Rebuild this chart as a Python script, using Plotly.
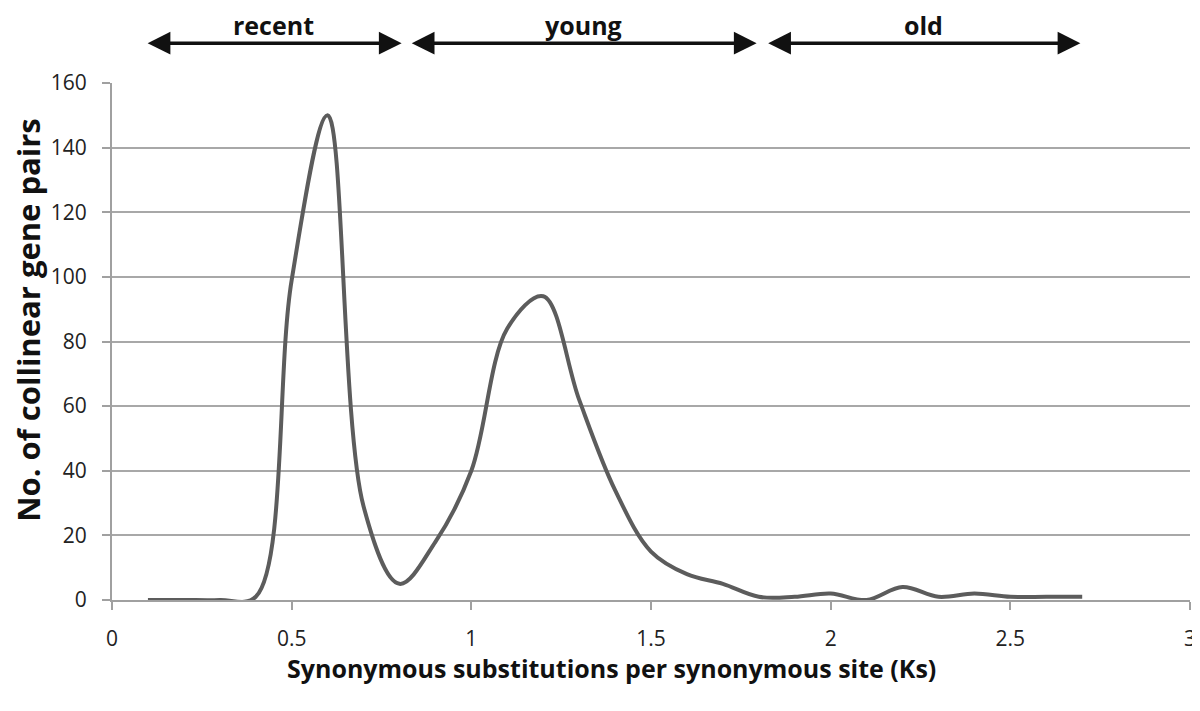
import plotly.graph_objects as go

# Ks values (x) and number of collinear gene pairs (y)
ks = [0.1, 0.2, 0.3, 0.4, 0.5, 0.6, 0.7, 0.8, 0.9, 1.0, 1.1, 1.2, 1.3, 1.4,
      1.5, 1.6, 1.7, 1.8, 1.9, 2.0, 2.1, 2.2, 2.3, 2.4, 2.5, 2.6, 2.7]
pairs = [0, 0, 0, 1, 99, 150, 29, 5, 18, 40, 84, 94, 62, 34,
         15, 8, 5, 1, 1, 2, 0, 4, 1, 2, 1, 1, 1]

# age classes shown above the plot
age_labels = ['recent', 'young', 'old']
age_start = [0.095, 0.83, 1.822]
age_end = [0.806, 1.794, 2.695]

x_title = 'Synonymous substitutions per synonymous site (Ks)'
y_title = 'No. of collinear gene pairs'

font = "Open Sans, Noto Sans, sans-serif"

fig = go.Figure(go.Scatter(
    x=ks, y=pairs, mode='lines',
    line=dict(color='#5c5c5c', width=4, shape='spline', smoothing=1),
    showlegend=False,
))

annotations = []
for lab, a, b in zip(age_labels, age_start, age_end):
    annotations.append(dict(
        x=b, y=1.077, xref='x', yref='paper',
        ax=a, ay=0, axref='x', ayref='pixel',
        showarrow=True, arrowside='end+start', arrowhead=2, arrowsize=1.3,
        arrowwidth=3.5, arrowcolor='#111111', text='',
    ))
    annotations.append(dict(
        x=(a + b) / 2, y=1.112, xref='x', yref='paper', showarrow=False,
        yanchor='middle', xanchor='center',
        text='<b>%s</b>' % lab, font=dict(size=25, color='#111111', family=font),
    ))

# axis titles as annotations (they sit off-centre in the original)
annotations.append(dict(
    x=0.463, y=-0.131, xref='paper', yref='paper', showarrow=False,
    xanchor='center', yanchor='middle',
    text='<b>%s</b>' % x_title, font=dict(size=25, color='#111111', family=font),
))
annotations.append(dict(
    x=-0.078, y=0.542, xref='paper', yref='paper', showarrow=False,
    xanchor='center', yanchor='middle', textangle=-90,
    text='<b>%s</b>' % y_title, font=dict(size=31, color='#111111', family=font),
))

# page body has an 8px margin, so the figure is sized to fit the window
fig.update_layout(
    width=1192, height=695,
    margin=dict(l=104, r=10, t=75, b=103),
    plot_bgcolor='white', paper_bgcolor='white',
    font=dict(family=font, color='#222222'),
    annotations=annotations,
    xaxis=dict(
        range=[0, 3], dtick=0.5, showgrid=False, zeroline=False, automargin=False,
        showline=True, linecolor='#a0a0a0', linewidth=2,
        ticks='outside', ticklen=8, tickcolor='#a0a0a0', tickwidth=2,
        ticklabelstandoff=11,
        tickfont=dict(size=21, color='#222222'),
    ),
    yaxis=dict(
        range=[0, 160], dtick=20, showgrid=True, gridcolor='#a8a8a8', gridwidth=2,
        zeroline=False, showline=True, linecolor='#a0a0a0', linewidth=2, automargin=False,
        ticks='outside', ticklen=8, tickcolor='#a0a0a0', tickwidth=2,
        ticklabelstandoff=11,
        tickfont=dict(size=21, color='#222222'),
    ),
)

fig.write_html("out.html")
